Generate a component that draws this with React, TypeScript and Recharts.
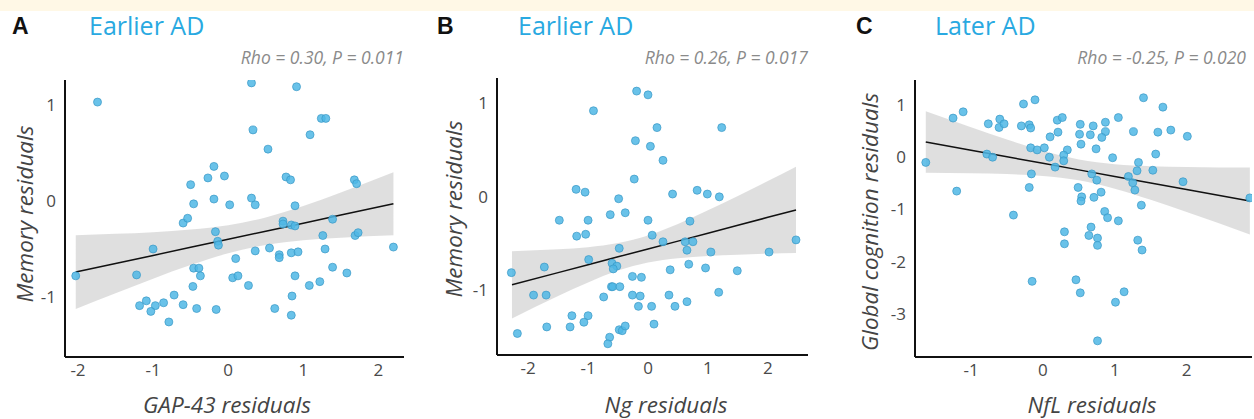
import { ComposedChart, Scatter, Line, Area, XAxis, YAxis } from "recharts";

// panel A: GAP-43 vs memory
const A_X = [-1.74, 0.31, 0.91, 1.24, 1.3, 0.33, 1.09, 0.53, -0.19, -0.5, -0.27, -0.05, 0.77, 0.83, 1.68, 1.71, -0.46, -0.19, 0.02, 0.31, 0.36, 0.89, -0.6, -0.54, -0.17, -0.14, -0.13, -1.0, -2.03, -1.22, -0.46, -0.39, -0.37, -0.47, -0.72, -1.09, -1.18, -0.97, -1.03, -0.86, -0.6, -0.42, -0.16, -0.79, 0.1, 0.06, 0.13, 0.27, 0.36, 0.55, 0.68, 0.68, 0.73, 0.73, 0.84, 0.89, 0.84, 0.93, 0.89, 0.85, 0.84, 0.62, 1.08, 1.22, 1.26, 1.29, 1.39, 1.39, 1.58, 1.69, 1.73, 2.2];
const A_Y = [1.03, 1.23, 1.19, 0.86, 0.86, 0.74, 0.69, 0.54, 0.36, 0.17, 0.24, 0.26, 0.25, 0.22, 0.22, 0.18, -0.03, 0.02, -0.04, 0.03, -0.04, -0.05, -0.23, -0.18, -0.32, -0.42, -0.46, -0.5, -0.78, -0.77, -0.7, -0.7, -0.78, -0.89, -0.98, -1.04, -1.09, -1.09, -1.15, -1.06, -1.08, -1.12, -1.13, -1.26, -0.6, -0.8, -0.78, -0.88, -0.52, -0.49, -0.56, -0.59, -0.21, -0.24, -0.25, -0.26, -0.54, -0.53, -0.78, -0.99, -1.19, -1.12, -0.88, -0.84, -0.36, -0.5, -0.19, -0.69, -0.75, -0.36, -0.33, -0.48];
const A_FIT_X = [-2.03, -1.5, -1, -0.5, 0, 0.5, 1, 1.5, 2.2];
const A_FIT = [-0.74, -0.651, -0.567, -0.483, -0.399, -0.315, -0.231, -0.147, -0.029];
const A_LO = [-1.124, -0.96, -0.809, -0.668, -0.545, -0.459, -0.41, -0.383, -0.358];
const A_HI = [-0.356, -0.342, -0.325, -0.298, -0.253, -0.171, -0.052, 0.089, 0.3];

// panel B: Ng vs memory
const B_X = [-0.91, -0.19, 0.0, 0.15, 1.23, -0.21, 0.04, 0.25, -0.23, -1.2, -1.05, -0.49, 0.41, 0.82, 0.99, 1.19, -0.63, -0.38, -1.48, -1.0, 0.0, 0.7, -1.19, -1.04, 0.07, 0.25, 0.62, 0.75, -0.48, 0.65, 1.05, 2.02, 2.47, -0.99, -0.6, -0.52, -0.58, -2.28, -1.73, 0.37, 0.68, 0.96, 1.49, -0.26, -0.11, -0.61, -0.59, -0.47, -1.91, -1.7, -0.74, -0.26, -0.13, 0.35, 1.18, -0.16, 0.06, 0.45, 0.65, -1.27, -1.0, -2.18, -1.69, -1.3, -1.07, -0.48, -0.43, -0.38, -0.64, -0.67, 0.1];
const B_Y = [0.92, 1.13, 1.09, 0.74, 0.74, 0.6, 0.54, 0.39, 0.19, 0.08, 0.05, -0.02, 0.03, 0.07, 0.03, 0.0, -0.19, -0.17, -0.25, -0.25, -0.25, -0.26, -0.42, -0.4, -0.41, -0.48, -0.48, -0.48, -0.55, -0.57, -0.59, -0.59, -0.46, -0.67, -0.71, -0.74, -0.77, -0.81, -0.75, -0.78, -0.72, -0.76, -0.79, -0.85, -0.86, -0.96, -0.96, -0.96, -1.05, -1.05, -1.07, -1.05, -1.06, -1.05, -1.02, -1.17, -1.17, -1.17, -1.12, -1.27, -1.27, -1.46, -1.39, -1.39, -1.34, -1.42, -1.43, -1.38, -1.5, -1.57, -1.36];
const B_FIT_X = [-2.27, -1.5, -1, -0.5, 0, 0.5, 1, 1.5, 2, 2.47];
const B_FIT = [-0.94, -0.81, -0.726, -0.641, -0.557, -0.473, -0.388, -0.304, -0.219, -0.14];
const B_LO = [-1.3, -1.059, -0.914, -0.788, -0.702, -0.656, -0.632, -0.618, -0.607, -0.601];
const B_HI = [-0.58, -0.561, -0.538, -0.494, -0.412, -0.29, -0.144, 0.01, 0.169, 0.321];

// panel C: NfL vs global cognition
const C_X = [-1.63, -1.25, -1.11, -1.2, -0.78, -0.7, -0.76, -0.6, -0.61, -0.54, -0.27, -0.11, -0.3, -0.19, -0.17, -0.17, -0.08, 0.02, -0.16, -0.19, 0.1, 0.2, 0.27, 0.21, 0.09, 0.17, 0.34, 0.29, 0.29, 0.52, 0.51, 0.53, 0.7, 0.66, 0.74, 0.87, 0.87, 0.82, 1.05, 0.97, 0.68, 0.75, 0.49, 0.54, 0.53, 0.71, 0.81, 1.4, 1.67, 1.26, 1.6, 1.78, 2.01, 1.57, 1.33, 1.31, 1.53, 1.19, 1.25, 1.28, 1.95, 2.88, 1.37, -0.41, 0.86, 0.9, 1.05, 0.67, 0.3, 0.3, 0.64, 0.76, 0.76, 1.32, 1.38, -0.15, 0.46, 0.52, 1.13, 1.01, 0.76];
const C_Y = [-0.1, 0.75, 0.87, -0.65, 0.06, 0.0, 0.64, 0.73, 0.57, 0.64, 1.02, 1.1, 0.6, 0.62, 0.56, 0.18, 0.14, 0.18, -0.32, -0.58, 0.39, 0.71, 0.76, 0.48, 0.0, -0.19, 0.14, 0.04, -0.07, 0.63, 0.44, 0.25, 0.6, 0.43, 0.16, 0.67, 0.49, 0.38, 0.76, -0.01, -0.32, -0.44, -0.58, -0.76, -0.84, -0.77, -0.67, 1.14, 0.96, 0.49, 0.48, 0.52, 0.4, 0.06, -0.1, -0.26, -0.25, -0.37, -0.49, -0.63, -0.47, -0.78, -0.92, -1.11, -1.04, -1.16, -1.22, -1.34, -1.43, -1.66, -1.5, -1.55, -1.69, -1.59, -1.78, -2.38, -2.35, -2.6, -2.58, -2.78, -3.52];
const C_FIT_X = [-1.63, -1, -0.5, 0, 0.5, 1, 1.5, 2, 2.88];
const C_FIT = [0.29, 0.133, 0.007, -0.118, -0.243, -0.369, -0.494, -0.619, -0.84];
const C_LO = [-0.3, -0.308, -0.324, -0.359, -0.443, -0.604, -0.817, -1.05, -1.481];
const C_HI = [0.88, 0.574, 0.338, 0.123, -0.043, -0.134, -0.171, -0.188, -0.199];

const FONT = "'Open Sans', 'Noto Sans', sans-serif";
const BLUE = "#29a9e1";

const Dot = (p: any) => (
  <circle cx={p.cx} cy={p.cy} r={4} fill="#4fb7e5" fillOpacity={0.85} stroke="#3a98c6" strokeWidth={0.7} />
);

type PanelProps = {
  xs: number[];
  ys: number[];
  fitX: number[];
  fit: number[];
  lo: number[];
  hi: number[];
  xDomain: [number, number];
  yDomain: [number, number];
  xTicks: number[];
  yTicks: number[];
  left: number;
  top: number;
  width: number;
  height: number;
};

const Panel = (props: PanelProps) => {
  const points = props.xs.map((x, i) => ({ x, y: props.ys[i] }));
  const band = props.fitX.map((x, i) => ({ x, fit: props.fit[i], band: [props.lo[i], props.hi[i]] }));
  const tick = { fill: "#4a4a4a", fontSize: 17, fontFamily: FONT };
  return (
    <div style={{ position: "absolute", left: props.left, top: props.top }}>
      <ComposedChart width={props.width} height={props.height} data={band} margin={{ top: 0, right: 0, bottom: 0, left: 0 }}>
        <XAxis
          type="number"
          dataKey="x"
          domain={props.xDomain}
          ticks={props.xTicks}
          allowDataOverflow
          tickLine={false}
          tickSize={5}
          tickMargin={2}
          height={40}
          axisLine={{ stroke: "#111", strokeWidth: 2 }}
          tick={tick}
        />
        <YAxis
          type="number"
          domain={props.yDomain}
          ticks={props.yTicks}
          allowDataOverflow
          tickLine={false}
          tickSize={6}
          tickMargin={3}
          width={40}
          axisLine={{ stroke: "#111", strokeWidth: 2 }}
          tick={tick}
        />
        <Area type="monotone" dataKey="band" stroke="none" fill="#d4d4d4" fillOpacity={0.75} isAnimationActive={false} />
        <Line type="linear" dataKey="fit" stroke="#111" strokeWidth={1.5} dot={false} isAnimationActive={false} />
        <Scatter data={points} dataKey="y" shape={Dot} isAnimationActive={false} />
      </ComposedChart>
    </div>
  );
};

const Txt = ({ x, y, children, style }: any) => (
  <div style={{ position: "absolute", left: x, top: y, transform: "translateY(-50%)", whiteSpace: "nowrap", fontFamily: FONT, ...style }}>
    {children}
  </div>
);

const RightTxt = ({ x, y, children }: any) => (
  <div style={{ position: "absolute", left: x, top: y, transform: "translate(-100%, -50%)", whiteSpace: "nowrap", fontFamily: FONT, fontStyle: "italic", fontSize: 17.5, color: "#8a8a8a" }}>
    {children}
  </div>
);

const CenterTxt = ({ x, y, children, rotate }: any) => (
  <div style={{ position: "absolute", left: x, top: y, transform: `translate(-50%, -50%)${rotate ? " rotate(-90deg)" : ""}`, whiteSpace: "nowrap", fontFamily: FONT, fontStyle: "italic", fontSize: 22.5, color: "#444" }}>
    {children}
  </div>
);

export default function App() {
  const letter = { fontFamily: "'Liberation Sans', Arial, sans-serif", fontWeight: 700, fontSize: 23, color: "#111" };
  const title = { fontSize: 25, color: BLUE };
  return (
    <div style={{ position: "fixed", left: 0, top: 0, width: 1254, height: 419, background: "#fff", overflow: "hidden" }}>
      <div style={{ position: "absolute", left: 0, top: 0, width: 1254, height: 11, background: "#fff8e6" }} />

      <Panel xs={A_X} ys={A_Y} fitX={A_FIT_X} fit={A_FIT} lo={A_LO} hi={A_HI}
        xDomain={[-2.173, 2.341]} yDomain={[-1.625, 1.26]} xTicks={[-2, -1, 0, 1, 2]} yTicks={[-1, 0, 1]}
        left={25} top={80} width={379} height={317} />
      <Panel xs={B_X} ys={B_Y} fitX={B_FIT_X} fit={B_FIT} lo={B_LO} hi={B_HI}
        xDomain={[-2.52, 2.67]} yDomain={[-1.69, 1.27]} xTicks={[-2, -1, 0, 1, 2]} yTicks={[-1, 0, 1]}
        left={457} top={78} width={351} height={317} />
      <Panel xs={C_X} ys={C_Y} fitX={C_FIT_X} fit={C_FIT} lo={C_LO} hi={C_HI}
        xDomain={[-1.78, 2.91]} yDomain={[-3.83, 1.48]} xTicks={[-1, 0, 1, 2]} yTicks={[-3, -2, -1, 0, 1]}
        left={875} top={80} width={377} height={317} />

      <Txt x={12} y={26} style={letter}>A</Txt>
      <Txt x={89} y={25} style={title}>Earlier AD</Txt>
      <RightTxt x={404} y={57}>Rho = 0.30, P = 0.011</RightTxt>
      <CenterTxt x={24} y={214} rotate>Memory residuals</CenterTxt>
      <CenterTxt x={227} y={404}>GAP-43 residuals</CenterTxt>

      <Txt x={437} y={26} style={letter}>B</Txt>
      <Txt x={518} y={25} style={title}>Earlier AD</Txt>
      <RightTxt x={808} y={57}>Rho = 0.26, P = 0.017</RightTxt>
      <CenterTxt x={453} y={209} rotate>Memory residuals</CenterTxt>
      <CenterTxt x={666} y={404}>Ng residuals</CenterTxt>

      <Txt x={856} y={26} style={letter}>C</Txt>
      <Txt x={935} y={25} style={title}>Later AD</Txt>
      <RightTxt x={1246} y={57}>Rho = -0.25, P = 0.020</RightTxt>
      <CenterTxt x={869} y={222} rotate>Global cognition residuals</CenterTxt>
      <CenterTxt x={1092} y={404}>NfL residuals</CenterTxt>
    </div>
  );
}
